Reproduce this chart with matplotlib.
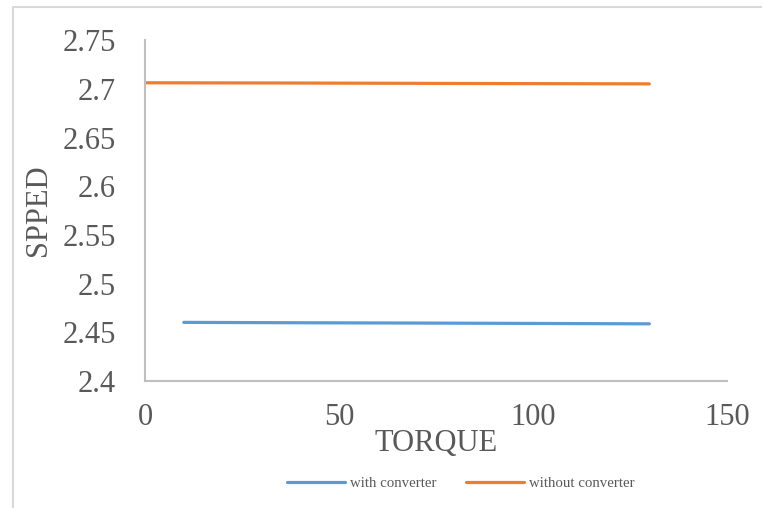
import matplotlib.pyplot as plt
from matplotlib.patches import Rectangle

# speed vs torque, with and without the converter
torque_with = [10, 40, 70, 100, 130]
speed_with = [2.4602, 2.4598, 2.4595, 2.4591, 2.4587]

torque_without = [0, 34, 64, 92, 130]
speed_without = [2.7062, 2.7060, 2.7057, 2.7054, 2.7051]

x_ticks = [0, 50, 100, 150]
y_ticks = [2.4, 2.45, 2.5, 2.55, 2.6, 2.65, 2.7, 2.75]

plt.rcParams['font.family'] = ['Liberation Serif', 'DejaVu Serif']

fig = plt.figure(figsize=(7.62, 5.08), dpi=100)
ax = fig.add_axes([0.1903, 0.25, 0.954 - 0.1903, 0.921 - 0.25])

# thin frame round the chart area
fig.patches.append(Rectangle((13 / 762, -0.1), 1.2, 1 - 7 / 508 + 0.1,
                             transform=fig.transFigure, fill=False,
                             edgecolor='#d9d9d9', linewidth=1.5))

ax.plot(torque_with, speed_with, color='#5b9bd5', lw=2.3,
        solid_capstyle='round', label='with converter')
ax.plot(torque_without, speed_without, color='#ed7d31', lw=2.3,
        solid_capstyle='round', label='without converter')

ax.set_xlim(0, 150)
ax.set_ylim(2.4, 2.75)
ax.set_xticks(x_ticks)
ax.set_xticklabels([f'{v:g}' for v in x_ticks])
ax.set_yticks(y_ticks)
ax.set_yticklabels([f'{v:g}' for v in y_ticks])

for side in ['top', 'right']:
    ax.spines[side].set_visible(False)
for side in ['left', 'bottom']:
    ax.spines[side].set_color('#bfbfbf')
    ax.spines[side].set_linewidth(1.5)

ax.tick_params(axis='both', length=0, labelsize=22, colors='#595959')
ax.tick_params(axis='y', pad=21)
ax.tick_params(axis='x', pad=16)

ax.set_xlabel('TORQUE', fontsize=22, color='#595959', labelpad=-2)
ax.set_ylabel('SPPED', fontsize=22, color='#595959', labelpad=7)

ax.legend(loc='center', bbox_to_anchor=(0.543, -0.3), ncol=2, frameon=False,
          fontsize=10.7, handlelength=3.9, handletextpad=0.35,
          columnspacing=2.0, labelcolor='#595959')

fig.savefig('out.png', dpi=100)
